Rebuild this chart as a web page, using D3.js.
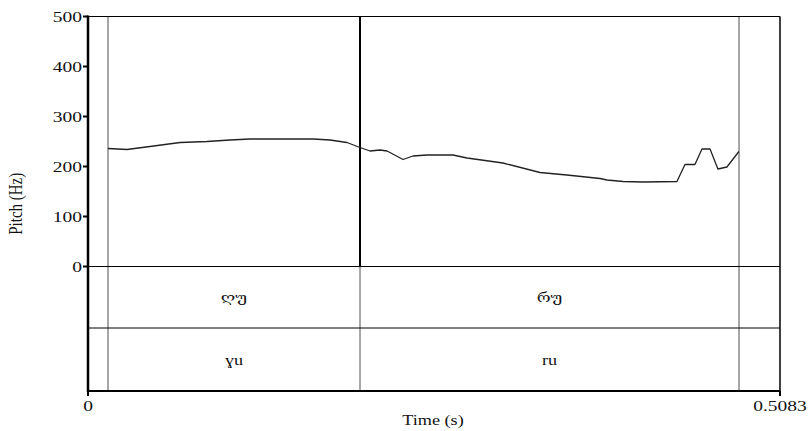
<!DOCTYPE html>
<html>
<head>
<meta charset="utf-8">
<script src="https://cdn.jsdelivr.net/npm/d3@7"></script>
<style>
  html, body { margin: 0; padding: 0; background: #fff; }
  svg { display: block; }
  text { font-family: "Liberation Serif", "DejaVu Serif", serif; fill: #111; }
</style>
</head>
<body>
<svg id="chart" width="808" height="431"></svg>
<script>
// Pitch track (time in seconds, F0 in Hz)
const timeS = [0.0147, 0.0286, 0.0455, 0.0676, 0.0874, 0.1043, 0.1190, 0.1653, 0.1778, 0.1902,
  0.1998, 0.2071, 0.2145, 0.2197, 0.2314, 0.2387, 0.2490, 0.2681, 0.2784, 0.3048,
  0.3320, 0.3518, 0.3761, 0.3812, 0.3930, 0.4077, 0.4326, 0.4385, 0.4458, 0.4510,
  0.4569, 0.4627, 0.4693, 0.4781];
const pitchHz = [236, 234, 240, 248, 250, 253, 255, 255, 253, 248,
  238, 231, 233, 231, 214, 221, 223, 223, 217, 207,
  188, 183, 176, 173, 170, 169, 170, 204, 204, 235,
  235, 195, 199, 230];

// Interval boundaries (s) and tier labels
const boundaries = [0.0147, 0.1998, 0.4782];
const tier1Labels = ["ღუ", "რუ"];
const tier2Labels = ["ɣu", "ru"];

// Axis ticks
const yTicks = [0, 100, 200, 300, 400, 500];
const xDomain = [0, 0.5083];
const xTickLabels = ["0", "0.5083"];

const svg = d3.select("#chart");
const padL = 88, padR = 780, frameTop = 16.5, zeroY = 266.5, tierMid = 328, frameBottom = 391;
const x = d3.scaleLinear().domain(xDomain).range([padL, padR]);
const y = d3.scaleLinear().domain([0, 500]).range([zeroY, frameTop]);
const stretch = 1.3;

function label(g, tx, ty, txt, anchor, size) {
  return g.append("text")
    .attr("transform", `translate(${tx},${ty}) scale(${stretch},1)`)
    .attr("text-anchor", anchor)
    .attr("font-size", size)
    .text(txt);
}

// Interval boundaries: grey through the tiers, the inner one drawn dark in the pitch area
boundaries.forEach(b => {
  svg.append("line")
    .attr("x1", x(b)).attr("x2", x(b))
    .attr("y1", frameTop).attr("y2", frameBottom)
    .attr("stroke", "#8a8a8a").attr("stroke-width", 1.5);
});
svg.append("line")
  .attr("x1", x(boundaries[1])).attr("x2", x(boundaries[1]))
  .attr("y1", frameTop).attr("y2", zeroY)
  .attr("stroke", "#000").attr("stroke-width", 2);

// Tier separators
[zeroY, tierMid].forEach(yy => {
  svg.append("line")
    .attr("x1", padL).attr("x2", padR)
    .attr("y1", yy).attr("y2", yy)
    .attr("stroke", "#000").attr("stroke-width", 1);
});

// Frame: top and right
svg.append("line").attr("x1", padL).attr("x2", padR).attr("y1", frameTop).attr("y2", frameTop)
  .attr("stroke", "#000").attr("stroke-width", 1.2);
svg.append("line").attr("x1", padR).attr("x2", padR).attr("y1", frameTop).attr("y2", frameBottom)
  .attr("stroke", "#000").attr("stroke-width", 1.5);

// Pitch contour
const line = d3.line().x((d, i) => x(timeS[i])).y(d => y(d));
svg.append("path")
  .datum(pitchHz)
  .attr("d", line)
  .attr("fill", "none")
  .attr("stroke", "#222")
  .attr("stroke-width", 1.3)
  .attr("stroke-linejoin", "round");

// Y axis
svg.append("line").attr("x1", padL).attr("x2", padL).attr("y1", frameTop - 1).attr("y2", frameBottom + 1)
  .attr("stroke", "#000").attr("stroke-width", 2.5);
const yg = svg.append("g");
yTicks.forEach(t => {
  yg.append("line").attr("x1", padL - 5).attr("x2", padL).attr("y1", y(t)).attr("y2", y(t))
    .attr("stroke", "#000").attr("stroke-width", 2);
  label(yg, padL - 6, y(t) + 5, String(t), "end", 15);
});

// X axis
svg.append("line").attr("x1", padL).attr("x2", padR).attr("y1", frameBottom).attr("y2", frameBottom)
  .attr("stroke", "#000").attr("stroke-width", 2);
const xg = svg.append("g");
xDomain.forEach((v, i) => {
  xg.append("line").attr("x1", x(v)).attr("x2", x(v)).attr("y1", frameBottom).attr("y2", frameBottom + 5)
    .attr("stroke", "#000").attr("stroke-width", 2);
  label(xg, x(v), 411, xTickLabels[i], "middle", 15);
});

// Axis titles
label(svg, (padL + padR) / 2 - 1, 425, "Time (s)", "middle", 14);
svg.append("text")
  .attr("transform", `translate(22,${(frameTop + frameBottom) / 2}) rotate(-90) scale(1,${stretch})`)
  .attr("text-anchor", "middle")
  .attr("font-size", 15)
  .text("Pitch (Hz)");

// Tier labels, centred in each interval
for (let i = 0; i < tier1Labels.length; i++) {
  const cx = (x(boundaries[i]) + x(boundaries[i + 1])) / 2;
  label(svg, cx, (zeroY + tierMid) / 2 + 5, tier1Labels[i], "middle", 13);
  label(svg, cx, (tierMid + frameBottom) / 2 + 5, tier2Labels[i], "middle", 14);
}
</script>
</body>
</html>
